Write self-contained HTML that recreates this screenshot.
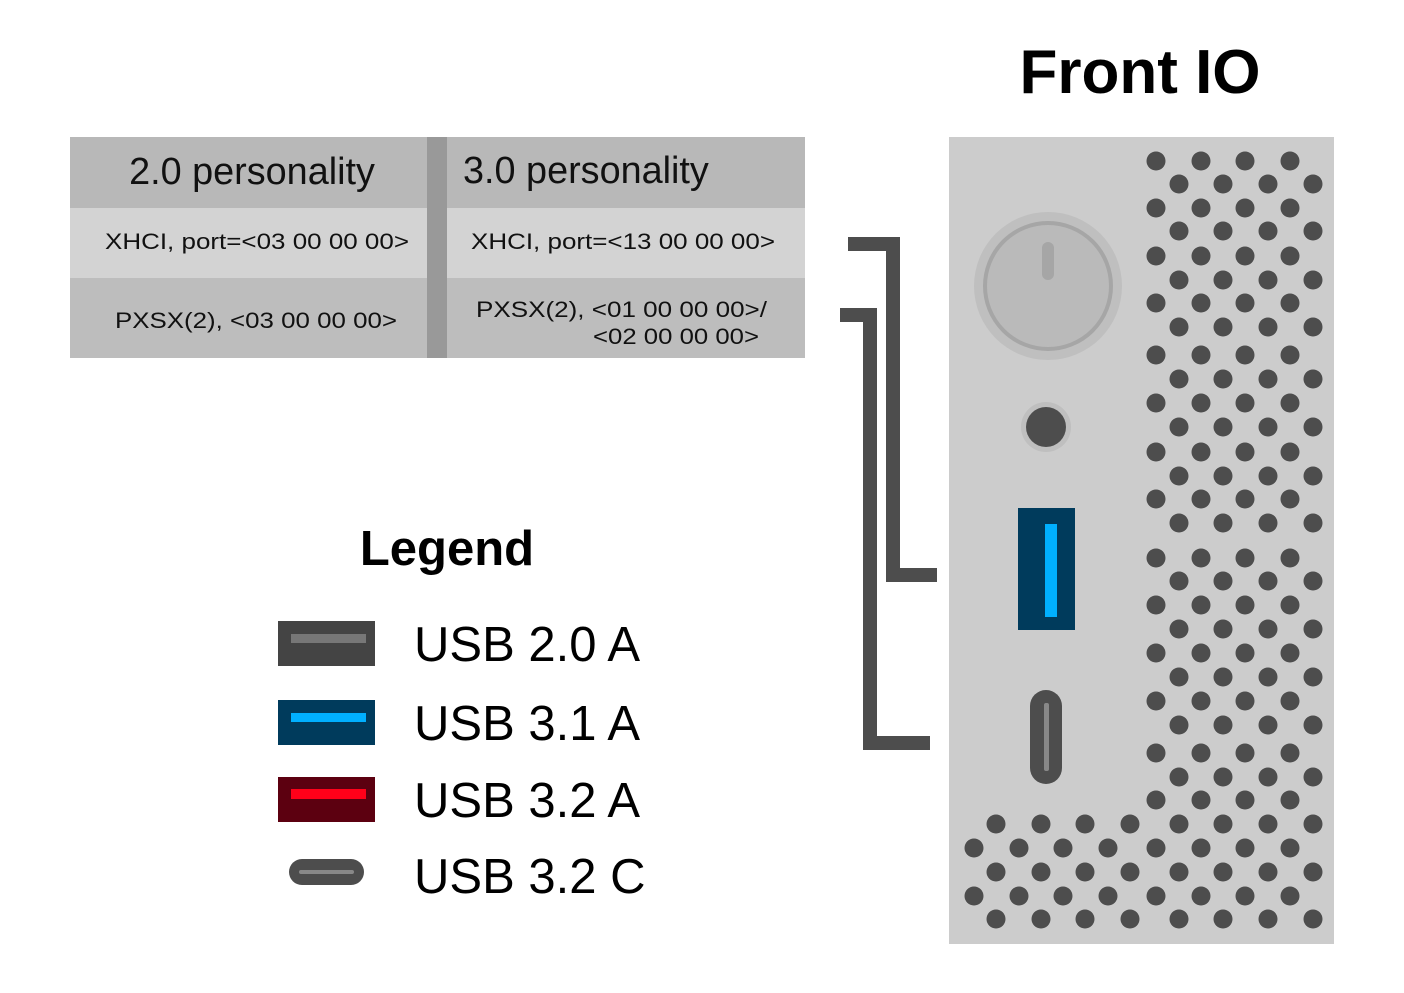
<!DOCTYPE html>
<html><head><meta charset="utf-8"><style>html,body{margin:0;padding:0;background:#fff}svg{display:block}</style></head><body>
<svg width="1404" height="993" viewBox="0 0 1404 993" xmlns="http://www.w3.org/2000/svg" font-family="Liberation Sans, Arial, sans-serif">
<rect width="1404" height="993" fill="#fff"/>
<text x="1140" y="93" font-size="62" font-weight="bold" text-anchor="middle" fill="#000">Front IO</text>
<!-- table -->
<rect x="70" y="137" width="735" height="71" fill="#b8b8b8"/>
<rect x="70" y="208" width="735" height="70" fill="#d3d3d3"/>
<rect x="70" y="278" width="735" height="80" fill="#bdbdbd"/>
<rect x="427" y="137" width="20" height="221" fill="#999"/>
<text x="252" y="184" font-size="37.8" text-anchor="middle" fill="#111">2.0 personality</text>
<text x="463" y="183" font-size="37.8" fill="#111">3.0 personality</text>
<text x="257" y="249" font-size="22" textLength="304" lengthAdjust="spacingAndGlyphs" text-anchor="middle" fill="#111">XHCI, port=&lt;03 00 00 00&gt;</text>
<text x="623" y="249" font-size="22" textLength="304" lengthAdjust="spacingAndGlyphs" text-anchor="middle" fill="#111">XHCI, port=&lt;13 00 00 00&gt;</text>
<text x="256" y="328" font-size="22" textLength="282" lengthAdjust="spacingAndGlyphs" text-anchor="middle" fill="#111">PXSX(2), &lt;03 00 00 00&gt;</text>
<text x="476" y="317" font-size="22" textLength="291" lengthAdjust="spacingAndGlyphs" fill="#111">PXSX(2), &lt;01 00 00 00&gt;/</text>
<text x="593" y="344" font-size="22" textLength="166" lengthAdjust="spacingAndGlyphs" fill="#111">&lt;02 00 00 00&gt;</text>
<!-- connectors -->
<path d="M848 244 H893 V575 H937" fill="none" stroke="#4d4d4d" stroke-width="14"/>
<path d="M840 315 H870 V743 H930" fill="none" stroke="#4d4d4d" stroke-width="14"/>
<!-- legend -->
<text x="447" y="565" font-size="49" font-weight="bold" text-anchor="middle" fill="#000">Legend</text>
<rect x="278" y="621" width="97" height="45" fill="#444"/><rect x="291" y="634" width="75" height="9" fill="#777"/>
<rect x="278" y="700" width="97" height="45" fill="#003b5c"/><rect x="291" y="713" width="75" height="9" fill="#00b0ff"/>
<rect x="278" y="777" width="97" height="45" fill="#5c0010"/><rect x="291" y="789" width="75" height="10" fill="#ff0019"/>
<rect x="289" y="859" width="75" height="26" rx="13" fill="#4d4d4d"/><rect x="299" y="870" width="55" height="4" rx="2" fill="#888"/>
<g font-size="49" fill="#000">
<text x="414" y="661">USB 2.0 A</text>
<text x="414" y="740">USB 3.1 A</text>
<text x="414" y="817">USB 3.2 A</text>
<text x="414" y="893">USB 3.2 C</text>
</g>
<!-- panel -->
<rect x="949" y="137" width="385" height="807" fill="#cccccc"/>
<circle cx="1048" cy="286" r="74" fill="#bfbfbf"/>
<circle cx="1048" cy="286" r="63" fill="#bababa" stroke="#a6a6a6" stroke-width="4"/>
<line x1="1048" y1="248" x2="1048" y2="274" stroke="#a6a6a6" stroke-width="12" stroke-linecap="round"/>
<circle cx="1046" cy="427" r="25" fill="#bfbfbf"/>
<circle cx="1046" cy="427" r="20" fill="#4d4d4d"/>
<rect x="1018" y="508" width="57" height="122" fill="#003b5c"/>
<rect x="1045" y="524" width="12" height="93" fill="#00b0ff"/>
<rect x="1030" y="690" width="32" height="94" rx="16" fill="#4d4d4d"/>
<rect x="1044" y="703" width="5" height="68" rx="2" fill="#888"/>
<defs>
<g id="ra"><circle cx="1156" r="9.5"/><circle cx="1201" r="9.5"/><circle cx="1245" r="9.5"/><circle cx="1290" r="9.5"/></g>
<g id="rb"><circle cx="1179" r="9.5"/><circle cx="1223" r="9.5"/><circle cx="1268" r="9.5"/><circle cx="1313" r="9.5"/></g>
<g id="la"><circle cx="974" r="9.5"/><circle cx="1019" r="9.5"/><circle cx="1063" r="9.5"/><circle cx="1108" r="9.5"/></g>
<g id="lb"><circle cx="996" r="9.5"/><circle cx="1041" r="9.5"/><circle cx="1085" r="9.5"/><circle cx="1130" r="9.5"/></g>
</defs>
<g fill="#4d4d4d">
<use href="#ra" y="161"/><use href="#ra" y="208"/><use href="#ra" y="256"/><use href="#ra" y="303"/>
<use href="#ra" y="355"/><use href="#ra" y="403"/><use href="#ra" y="452"/><use href="#ra" y="499"/>
<use href="#ra" y="558"/><use href="#ra" y="605"/><use href="#ra" y="653"/><use href="#ra" y="701"/>
<use href="#ra" y="753"/><use href="#ra" y="800"/><use href="#ra" y="848"/><use href="#ra" y="896"/>
<use href="#rb" y="184"/><use href="#rb" y="231"/><use href="#rb" y="280"/><use href="#rb" y="327"/>
<use href="#rb" y="379"/><use href="#rb" y="427"/><use href="#rb" y="476"/><use href="#rb" y="523"/>
<use href="#rb" y="581"/><use href="#rb" y="629"/><use href="#rb" y="677"/><use href="#rb" y="725"/>
<use href="#rb" y="777"/><use href="#rb" y="824"/><use href="#rb" y="872"/><use href="#rb" y="919"/>
<use href="#lb" y="824"/><use href="#lb" y="872"/><use href="#lb" y="919"/>
<use href="#la" y="848"/><use href="#la" y="896"/>
</g>
</svg>
</body></html>
